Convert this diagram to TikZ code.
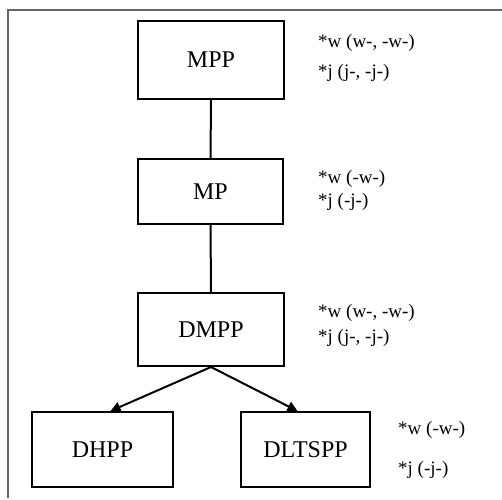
\documentclass[tikz,border=0pt]{standalone}
\usepackage{fontspec}
\setmainfont{Liberation Serif}
\usetikzlibrary{arrows.meta,positioning}

\tikzset{
  box/.style={draw, line width=2pt, minimum width=#1, inner sep=0pt, font=\fontsize{24}{27}\selectfont},
  note/.style={anchor=west, inner sep=0pt, font=\fontsize{19}{22}\selectfont},
  link/.style={line width=2pt},
  tree/.style={line width=2pt, -{Triangle[length=10pt,width=10pt]}}
}

\begin{document}
\begin{tikzpicture}[x=1pt,y=-1pt]

% Page size
\useasboundingbox (0,0) rectangle (502,499);

% Frame
\draw[gray!80!black, line width=2pt] (8,498) -- (8,10) -- (502,10);

% Boxes
\node[box=146pt, minimum height=78pt] (mpp) at (211,60) {MPP};
\node[box=145pt, minimum height=65pt] (mp) at (210.5,191.5) {MP};
\node[box=146pt, minimum height=73pt] (dmpp) at (211,329.5) {DMPP};
\node[box=141pt, minimum height=75pt] (dhpp) at (102.5,449.5) {DHPP};
\node[box=129pt, minimum height=75pt] (dltspp) at (305.5,449.5) {DLTSPP};

% Links
\draw[link] (mpp.south) -- (mp.north);
\draw[link] (mp.south) -- (dmpp.north);
\draw[tree] (dmpp.south) -- ([xshift=8pt]dhpp.north);
\draw[tree] (dmpp.south) -- ([xshift=-8pt]dltspp.north);

% Notes
\node[note] (mppw) at (318,43) {*w (w-, -w-)};
\node[note] (mppj) at (318,73) {*j (j-, -j-)};
\node[note] (mpw) at (318,179) {*w (-w-)};
\node[note] (mpj) at (318,202) {*j (-j-)};
\node[note] (dmppw) at (318,313) {*w (w-, -w-)};
\node[note] (dmppj) at (318,338) {*j (j-, -j-)};
\node[note] (dltsppw) at (398,430) {*w (-w-)};
\node[note] (dltsppj) at (398,470) {*j (-j-)};

\end{tikzpicture}
\end{document}
